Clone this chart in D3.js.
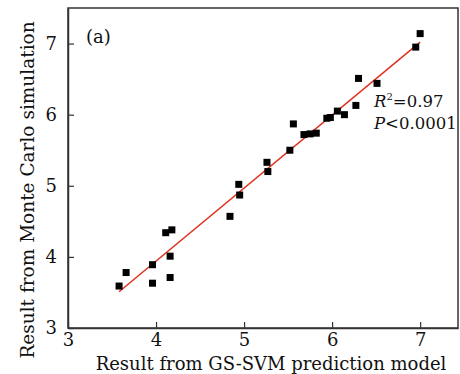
<!DOCTYPE html>
<html>
<head>
<meta charset="utf-8">
<script src="https://cdn.jsdelivr.net/npm/d3@7"></script>
<style>
  body { margin: 0; background: #fff; }
  text { font-family: "DejaVu Serif", "Liberation Serif", serif; fill: #111; }
</style>
</head>
<body>
<div id="chart"></div>
<script>
// values
const svmPred = [3.58, 3.66, 3.96, 3.96, 4.11, 4.18, 4.16, 4.16, 4.84, 4.94, 4.95, 5.26, 5.27, 5.52,
  5.56, 5.68, 5.75, 5.82, 5.94, 5.98, 6.06, 6.14, 6.27, 6.30, 6.51, 6.95, 7.00];
const mcSim = [3.59, 3.78, 3.89, 3.63, 4.34, 4.38, 4.01, 3.71, 4.57, 5.02, 4.87, 5.33, 5.20, 5.50,
  5.87, 5.72, 5.73, 5.74, 5.95, 5.96, 6.05, 6.00, 6.13, 6.51, 6.44, 6.95, 7.14];
const fitX = [3.58, 7.0];
const fitY = [3.51, 7.02];
const xTicks = [3, 4, 5, 6, 7];
const yTicks = [3, 4, 5, 6, 7];

const width = 460, height = 374;
const margin = { left: 68, top: 8, right: 2, bottom: 46 };

const svg = d3.select("#chart").append("svg")
  .attr("width", width)
  .attr("height", height);

const x = d3.scaleLinear().domain([3, 7.43]).range([margin.left, width - margin.right]);
const y = d3.scaleLinear().domain([3, 7.5]).range([height - margin.bottom, margin.top]);

// frame
svg.append("rect")
  .attr("x", margin.left)
  .attr("y", margin.top)
  .attr("width", width - margin.right - margin.left)
  .attr("height", height - margin.bottom - margin.top)
  .attr("fill", "none")
  .attr("stroke", "#333")
  .attr("stroke-width", 1.5);

// axes with inward ticks
const xAxis = svg.append("g")
  .attr("transform", `translate(0,${height - margin.bottom})`)
  .call(d3.axisBottom(x).tickValues(xTicks).tickFormat(d3.format("d"))
    .tickSizeInner(-6).tickSizeOuter(0).tickPadding(7));
const yAxis = svg.append("g")
  .attr("transform", `translate(${margin.left},0)`)
  .call(d3.axisLeft(y).tickValues(yTicks).tickFormat(d3.format("d"))
    .tickSizeInner(-6).tickSizeOuter(0).tickPadding(11));

[xAxis, yAxis].forEach(g => {
  g.attr("font-size", null).attr("font-family", null);
  g.select(".domain").attr("stroke", "#333").attr("stroke-width", 1.5);
  g.selectAll(".tick line").attr("stroke", "#333").attr("stroke-width", 1.2);
  g.selectAll(".tick text")
    .attr("font-size", 18)
    .attr("fill", "#111");
});
xAxis.selectAll(".tick text").attr("dy", "0.6em");

// fit line
svg.append("line")
  .attr("x1", x(fitX[0])).attr("y1", y(fitY[0]))
  .attr("x2", x(fitX[1])).attr("y2", y(fitY[1]))
  .attr("stroke", "#e0301e")
  .attr("stroke-width", 1.5);

// points
const pts = svmPred.map((v, i) => ({ x: v, y: mcSim[i] }));
const s = 7;
svg.selectAll("rect.pt")
  .data(pts)
  .enter().append("rect")
  .attr("class", "pt")
  .attr("x", d => x(d.x) - s / 2)
  .attr("y", d => y(d.y) - s / 2)
  .attr("width", s)
  .attr("height", s)
  .attr("fill", "#000");

// labels
svg.append("text")
  .attr("x", 86).attr("y", 43)
  .attr("font-size", 18)
  .text("(a)");

const stats = svg.append("text").attr("font-size", 16.5);
stats.append("tspan").attr("x", 374).attr("y", 107).attr("font-style", "italic").text("R");
stats.append("tspan").attr("dy", -7).attr("font-size", 10).text("2");
stats.append("tspan").attr("dy", 7).text("=0.97");
svg.append("text")
  .attr("font-size", 16.5)
  .attr("x", 374).attr("y", 129)
  .call(t => {
    t.append("tspan").attr("font-style", "italic").text("P");
    t.append("tspan").text("<0.0001");
  });

svg.append("text")
  .attr("x", 271).attr("y", 370)
  .attr("text-anchor", "middle")
  .attr("font-size", 18)
  .text("Result from GS-SVM prediction model");

svg.append("text")
  .attr("transform", `translate(34,190) rotate(-90)`)
  .attr("text-anchor", "middle")
  .attr("font-size", 18.5)
  .text("Result from Monte Carlo simulation");
</script>
</body>
</html>
